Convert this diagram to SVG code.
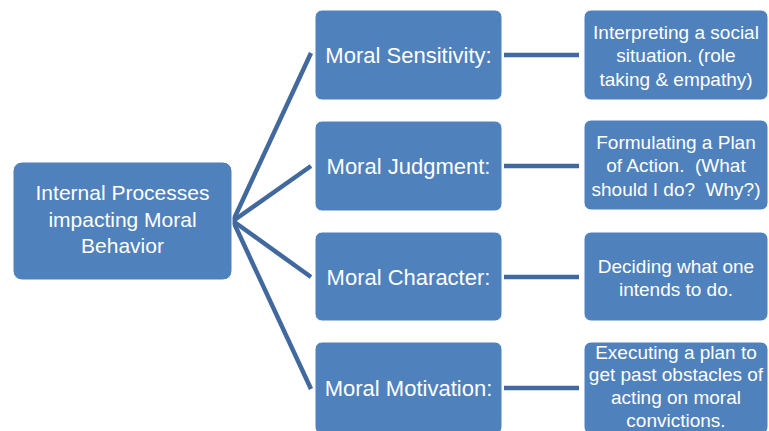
<svg xmlns="http://www.w3.org/2000/svg" width="769" height="431" viewBox="0 0 769 431">
<style>
.box{fill:#4F81BD;stroke:#ffffff;stroke-width:1}
.t{font-family:"Liberation Sans",Arial,sans-serif;fill:#ffffff;text-anchor:middle}
.root{font-size:21px}
.mid{font-size:22px}
.det{font-size:19px}
.conn{stroke:#41699D;stroke-width:4.5;fill:none}
</style>
<rect width="769" height="431" fill="#ffffff"/>
<g id="connectors">
<line class="conn" x1="233" y1="221" x2="311" y2="53"/>
<line class="conn" x1="233" y1="221" x2="311" y2="166"/>
<line class="conn" x1="233" y1="221" x2="311" y2="277"/>
<line class="conn" x1="233" y1="221" x2="311" y2="389"/>
<line class="conn" x1="504" y1="55" x2="579" y2="55"/>
<line class="conn" x1="504" y1="166" x2="579" y2="166"/>
<line class="conn" x1="504" y1="277" x2="579" y2="277"/>
<line class="conn" x1="504" y1="388" x2="579" y2="388"/>
</g>
<g id="root">
<rect class="box" x="13" y="162" width="219" height="118" rx="9"/>
<text class="t root" x="122.5" y="200">Internal Processes</text>
<text class="t root" x="122.5" y="227">impacting Moral</text>
<text class="t root" x="122.5" y="253">Behavior</text>
</g>
<g id="sensitivity">
<rect class="box" x="315" y="10" width="187" height="90" rx="7"/>
<text class="t mid" x="408.5" y="63">Moral Sensitivity:</text>
</g>
<g id="judgment">
<rect class="box" x="315" y="121" width="187" height="90" rx="7"/>
<text class="t mid" x="408.5" y="174">Moral Judgment:</text>
</g>
<g id="character">
<rect class="box" x="315" y="232" width="187" height="89" rx="7"/>
<text class="t mid" x="408.5" y="285">Moral Character:</text>
</g>
<g id="motivation">
<rect class="box" x="315" y="342" width="187" height="92" rx="7"/>
<text class="t mid" x="408.5" y="396">Moral Motivation:</text>
</g>
<g id="sensitivity-detail">
<rect class="box" x="584" y="10" width="184" height="90" rx="7"/>
<text class="t det" x="676" y="39">Interpreting a social</text>
<text class="t det" x="676" y="62">situation. (role</text>
<text class="t det" x="676" y="86">taking &amp; empathy)</text>
</g>
<g id="judgment-detail">
<rect class="box" x="584" y="120" width="184" height="90" rx="7"/>
<text class="t det" x="676" y="149">Formulating a Plan</text>
<text class="t det" x="676" y="172" xml:space="preserve">of Action.  (What</text>
<text class="t det" x="676" y="196" xml:space="preserve">should I do?  Why?)</text>
</g>
<g id="character-detail">
<rect class="box" x="584" y="232" width="184" height="89" rx="7"/>
<text class="t det" x="676" y="273">Deciding what one</text>
<text class="t det" x="676" y="296">intends to do.</text>
</g>
<g id="motivation-detail">
<rect class="box" x="584" y="342" width="184" height="92" rx="7"/>
<text class="t det" x="676" y="359">Executing a plan to</text>
<text class="t det" x="676" y="381">get past obstacles of</text>
<text class="t det" x="676" y="404">acting on moral</text>
<text class="t det" x="676" y="427">convictions.</text>
</g>
</svg>
